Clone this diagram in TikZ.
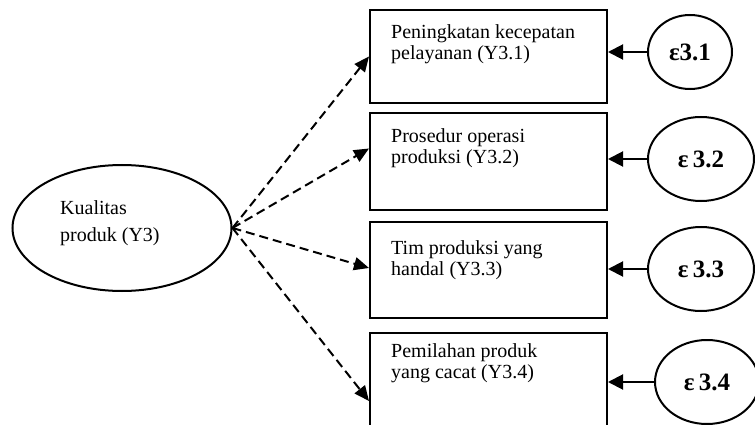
\documentclass[tikz,border=0pt]{standalone}
\usepackage{fontspec}
\setmainfont{Liberation Serif}
\usetikzlibrary{arrows.meta,shapes.geometric}
\tikzset{
  every picture/.style={x=1pt,y=-1pt},
  indbox/.style={draw,line width=2pt,minimum width=237pt,inner sep=0pt},
  boxtext/.style={anchor=north west,align=left,inner sep=0pt,font=\fontsize{20}{21.5}\selectfont},
  errell/.style={draw,ellipse,line width=2pt,inner sep=0pt,font=\fontsize{25}{28}\selectfont\bfseries},
  latent/.style={draw,ellipse,line width=2pt,inner sep=0pt,minimum width=219pt,minimum height=126pt},
  load/.style={-{Triangle[length=15pt,width=13pt]},dash pattern=on 9pt off 5pt,line width=2pt},
  err/.style={-{Triangle[length=15pt,width=15pt]},line width=2pt}
}
\begin{document}
\begin{tikzpicture}
\useasboundingbox (0,0) rectangle (755,425);
\clip (0,0) rectangle (755,425);
% latent construct
\node[latent] (k) at (122,228) {};
\node[anchor=north west,align=left,inner sep=0pt,font=\fontsize{20}{27}\selectfont] (kt) at (60,200) {Kualitas\\produk (Y3)};
% indicator boxes
\node[indbox,minimum height=93pt] (b1) at (488.5,56.5) {};
\node[indbox,minimum height=97pt] (b2) at (488.5,161.5) {};
\node[indbox,minimum height=96pt] (b3) at (488.5,270) {};
\node[indbox,minimum height=110pt] (b4) at (488.5,388) {};
\node[boxtext] (t1) at (391,24) {Peningkatan kecepatan\\pelayanan (Y3.1)};
\node[boxtext] (t2) at (391,128) {Prosedur operasi\\produksi (Y3.2)};
\node[boxtext] (t3) at (391,240) {Tim produksi yang\\handal (Y3.3)};
\node[boxtext] (t4) at (391,343) {Pemilahan produk\\yang cacat (Y3.4)};
% error terms
\node[errell,minimum width=84pt,minimum height=74pt] (e1) at (690,52) {ε3.1};
\node[errell,minimum width=106pt,minimum height=84pt] (e2) at (701,159) {ε\,3.2};
\node[errell,minimum width=106pt,minimum height=84pt] (e3) at (701,269) {ε\,3.3};
\node[errell,minimum width=104pt,minimum height=84pt] (e4) at (707,382) {ε\,3.4};
% loadings
\draw[load] (k.east) -- ([yshift=0pt]b1.west);
\draw[load] (k.east) -- ([yshift=13pt]b2.west);
\draw[load] (k.east) -- ([yshift=2pt]b3.west);
\draw[load] (k.east) -- ([yshift=-13pt]b4.west);
% error arrows
\draw[err] (e1.west) -- (b1.east|-e1.west);
\draw[err] (e2.west) -- (b2.east|-e2.west);
\draw[err] (e3.west) -- (b3.east|-e3.west);
\draw[err] (e4.west) -- (b4.east|-e4.west);
\end{tikzpicture}
\end{document}
